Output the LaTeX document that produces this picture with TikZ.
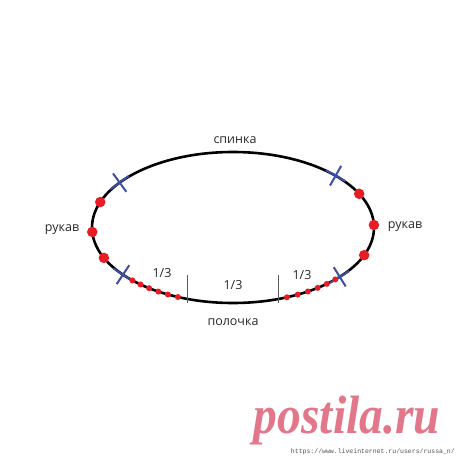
\documentclass[tikz,border=0pt]{standalone}
\usepackage{fontspec}
\setmainfont{Open Sans}
\newfontfamily\wmserif{Liberation Serif}
\newfontfamily\wmmono{Liberation Mono}
\usetikzlibrary{shapes.misc}
\definecolor{dotred}{RGB}{232,28,36}
\definecolor{seamblue}{RGB}{62,78,160}
\definecolor{tickgray}{RGB}{90,90,90}
\definecolor{labelgray}{RGB}{40,40,40}
\definecolor{wmpink}{RGB}{226,118,138}
\tikzset{
  labeltext/.style={text=labelgray, font=\fontsize{12.5}{14}\selectfont, inner sep=0pt},
  bigdot/.style={circle, fill=dotred, inner sep=0pt, minimum size=10.5pt},
  smalldot/.style={circle, fill=dotred, inner sep=0pt, minimum size=6pt},
  seam/.style={cross out, draw=seamblue, line width=2pt, minimum size=14pt, inner sep=0pt},
}
\begin{document}
\begin{tikzpicture}[x=1pt,y=1pt]
        \useasboundingbox (-233,-232.5) rectangle (227,227.5);
        % armhole outline
        \draw[line width=2.6pt] (0,0) ellipse [x radius=141, y radius=75.5];
        % side seams
        \foreach \t [count=\i] in {143.5, 218.7, 43.3, -40.8} {
            \pgfmathsetmacro{\tang}{atan2(75.5*cos(\t), -141*sin(\t))}
            \node[seam, rotate=\tang-45] (seam\i) at ({141*cos(\t)}, {75.5*sin(\t)}) {};
        }
        % sleeve markers
        \foreach \t [count=\i] in {160.3, 183.4, 203.7}
            \node[bigdot] (sleeveL\i) at ({141*cos(\t)}, {75.5*sin(\t)}) {};
        \foreach \t [count=\i] in {26.5, 1.9, -21.5}
            \node[bigdot] (sleeveR\i) at ({141*cos(\t)}, {75.5*sin(\t)}) {};
        % front markers
        \foreach \t [count=\i] in {224.5, 229, 233.5, 238, 242.5, 247}
            \node[smalldot] (frontL\i) at ({141*cos(\t)}, {75.5*sin(\t)}) {};
        \foreach \t [count=\i] in {-67.5, -62.7, -57.9, -53.1, -48.3, -43.5}
            \node[smalldot] (frontR\i) at ({141*cos(\t)}, {75.5*sin(\t)}) {};
        % thirds of the front
        \coordinate (tickLtop) at (-46,-47.5);
        \coordinate (tickLbot) at (-46,-75.5);
        \coordinate (tickRtop) at (45,-47.5);
        \coordinate (tickRbot) at (45,-75.5);
        \draw[tickgray, line width=0.8pt] (tickLtop) -- (tickLbot);
        \draw[tickgray, line width=0.8pt] (tickRtop) -- (tickRbot);
        \node[labeltext] (thirdL) at (-71,-45.5) {1/3};
        \node[labeltext] (thirdM) at (0,-57.5) {1/3};
        \node[labeltext] (thirdR) at (69,-47.5) {1/3};
        % names of the parts
        \node[labeltext] (back) at (2,87.5) {спинка};
        \node[labeltext] (front) at (0,-94.5) {полочка};
        \node[labeltext] (sleeveL) at (-171,-2.5) {рукав};
        \node[labeltext] (sleeveR) at (172,0.5) {рукав};
        % watermark
        \node[text=wmpink, font=\wmserif\bfseries\itshape\fontsize{54}{60}\selectfont,
              xscale=0.88, anchor=base, inner sep=0pt] (wmlogo) at (114,-205.5) {postila.ru};
        \node[text=labelgray!80, font=\wmmono\fontsize{6.5}{7}\selectfont,
              anchor=east, inner sep=0pt] (wmurl) at (222,-224.5) {https://www.liveinternet.ru/users/russa\_n/};
\end{tikzpicture}
\end{document}
